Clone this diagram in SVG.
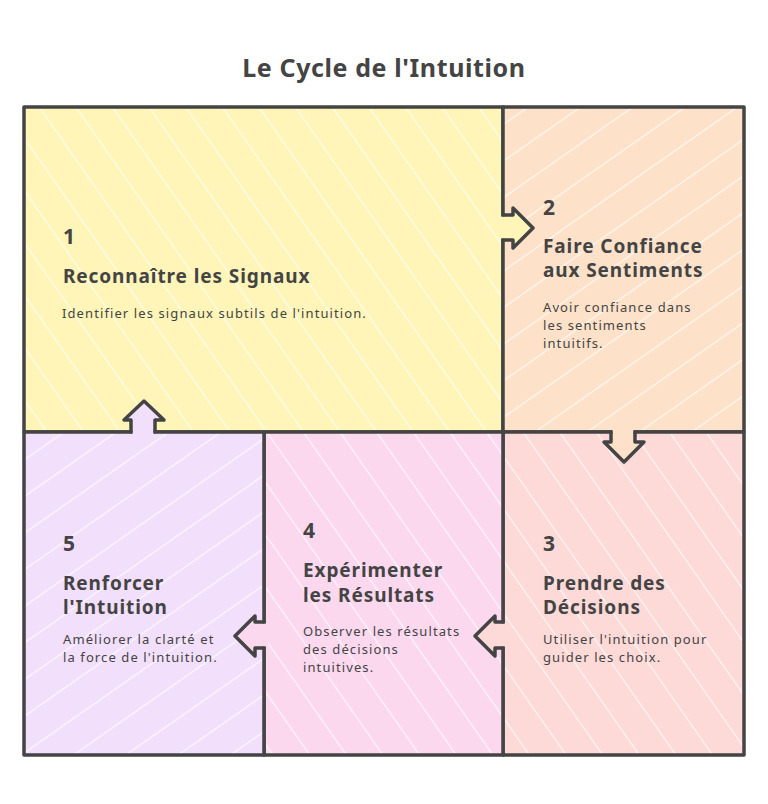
<svg xmlns="http://www.w3.org/2000/svg" width="768" height="804" viewBox="0 0 768 804">
<style>
.border{fill:none;stroke:#444;stroke-width:3.5;stroke-linejoin:round;stroke-linecap:round}
.num{font-family:"Noto Sans",sans-serif;font-weight:700;font-size:21px;fill:#444}
.ttl{font-family:"Noto Sans",sans-serif;font-weight:700;font-size:19px;letter-spacing:0.9px;fill:#444}
.dsc{font-family:"Noto Sans",sans-serif;font-size:13px;letter-spacing:1.1px;fill:#444}
.title{font-family:"Noto Sans",sans-serif;font-weight:700;font-size:25px;letter-spacing:0.6px;fill:#444}
</style>
<defs>
<pattern id="hu" width="30" height="30" patternUnits="userSpaceOnUse" patternTransform="rotate(-35)">
<line x1="0" y1="0" x2="0" y2="30" stroke="#fff" stroke-width="2.5" opacity="0.75"/>
</pattern>
<pattern id="hd" width="30" height="30" patternUnits="userSpaceOnUse" patternTransform="rotate(55)">
<line x1="0" y1="0" x2="0" y2="30" stroke="#fff" stroke-width="2.5" opacity="0.75"/>
</pattern>
</defs>
<rect width="768" height="804" fill="#fff"/>
<text class="title" x="384" y="77" text-anchor="middle">Le Cycle de l'Intuition</text>

<g id="node1">
<rect x="24" y="107" width="479" height="325" fill="#fff5b8"/>
<rect x="24" y="107" width="479" height="325" fill="url(#hu)"/>
<rect x="24" y="107" width="479" height="325" class="border"/>
<text class="num" x="63" y="244">1</text>
<text class="ttl" x="63" y="283">Reconnaître les Signaux</text>
<text class="dsc" x="62" y="318">Identifier les signaux subtils de l'intuition.</text>
</g>

<g id="node2">
<rect x="503" y="107" width="241" height="325" fill="#fde1c8"/>
<rect x="503" y="107" width="241" height="325" fill="url(#hd)"/>
<rect x="503" y="107" width="241" height="325" class="border"/>
<text class="num" x="543" y="215">2</text>
<text class="ttl" x="543" y="253">Faire Confiance</text>
<text class="ttl" x="543" y="277">aux Sentiments</text>
<text class="dsc" x="543" y="312">Avoir confiance dans</text>
<text class="dsc" x="543" y="330">les sentiments</text>
<text class="dsc" x="543" y="348">intuitifs.</text>
</g>

<g id="node3">
<rect x="503" y="432" width="241" height="323" fill="#fdd9d7"/>
<rect x="503" y="432" width="241" height="323" fill="url(#hu)"/>
<rect x="503" y="432" width="241" height="323" class="border"/>
<text class="num" x="543" y="551">3</text>
<text class="ttl" x="543" y="590">Prendre des</text>
<text class="ttl" x="543" y="614">Décisions</text>
<text class="dsc" x="543" y="644">Utiliser l'intuition pour</text>
<text class="dsc" x="543" y="662">guider les choix.</text>
</g>

<g id="node4">
<rect x="264" y="432" width="239" height="323" fill="#fcd8ef"/>
<rect x="264" y="432" width="239" height="323" fill="url(#hu)"/>
<rect x="264" y="432" width="239" height="323" class="border"/>
<text class="num" x="303" y="538">4</text>
<text class="ttl" x="303" y="577">Expérimenter</text>
<text class="ttl" x="303" y="602">les Résultats</text>
<text class="dsc" x="303" y="636">Observer les résultats</text>
<text class="dsc" x="303" y="654">des décisions</text>
<text class="dsc" x="303" y="672">intuitives.</text>
</g>

<g id="node5">
<rect x="24" y="432" width="240" height="323" fill="#f2dffb"/>
<rect x="24" y="432" width="240" height="323" fill="url(#hd)"/>
<rect x="24" y="432" width="240" height="323" class="border"/>
<text class="num" x="63" y="551">5</text>
<text class="ttl" x="63" y="590">Renforcer</text>
<text class="ttl" x="63" y="614">l'Intuition</text>
<text class="dsc" x="63" y="644">Améliorer la clarté et</text>
<text class="dsc" x="63" y="662">la force de l'intuition.</text>
</g>

<g id="connectors">
<polygon points="499,216.5 513,216.5 513,208 533,228 513,248 513,238.5 499,238.5" fill="#fff5b8"/>
<path class="border" d="M503,215 L513,215 L513,208 L533,228 L513,248 L513,240 L503,240"/>

<polygon points="612.5,428 612.5,442 604,442 624,462 644,442 633.5,442 633.5,428" fill="#fde1c8"/>
<path class="border" d="M611,432 L611,442 L604,442 L624,462 L644,442 L635,442 L635,432"/>

<polygon points="507,623.5 495,623.5 495,616 475,636 495,656 495,646.5 507,646.5" fill="#fdd9d7"/>
<path class="border" d="M503,622 L495,622 L495,616 L475,636 L495,656 L495,648 L503,648"/>

<polygon points="268,623.5 255,623.5 255,616 235,636 255,656 255,646.5 268,646.5" fill="#fcd8ef"/>
<path class="border" d="M264,622 L255,622 L255,616 L235,636 L255,656 L255,648 L264,648"/>

<polygon points="132.5,436 132.5,420 124,420 144,401 164,420 153.5,420 153.5,436" fill="#f2dffb"/>
<path class="border" d="M131,432 L131,420 L124,420 L144,401 L164,420 L155,420 L155,432"/>
</g>
</svg>
